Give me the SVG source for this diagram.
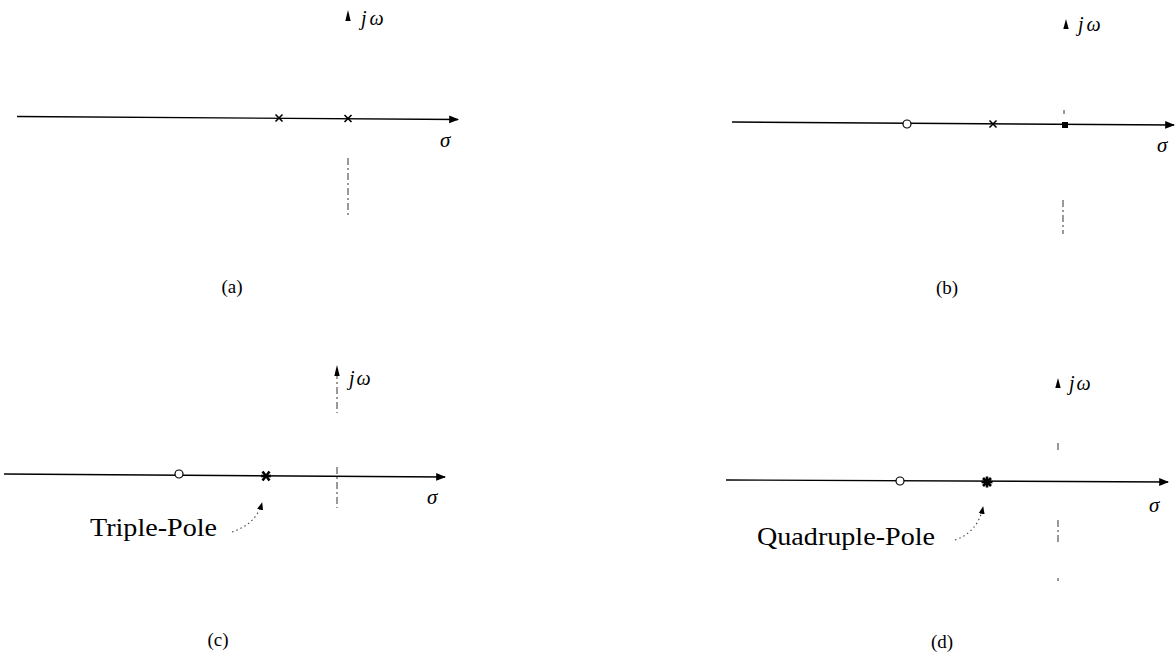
<svg xmlns="http://www.w3.org/2000/svg" width="1176" height="661" viewBox="0 0 1176 661">
<style>
.ax{stroke:#000;stroke-width:1.4;fill:none}
.im{stroke:#333;stroke-width:1;fill:none;stroke-dasharray:7 3 2 3}
.pole{stroke:#000;stroke-width:1.6;fill:none}
.mpole{stroke:#000;stroke-width:2.6;fill:none}
.zero{stroke:#000;stroke-width:1.2;fill:#fff}
.dot{stroke:#444;stroke-width:1.1;fill:none;stroke-dasharray:1.5 3}
.ah{fill:#000}
.lbl{font-family:"Liberation Serif","DejaVu Serif",serif;fill:#000}
.it{font-family:"Liberation Serif","DejaVu Serif",serif;font-style:italic;fill:#000}
</style>
<defs>
<marker id="arr" viewBox="0 0 10 10" refX="9" refY="5" markerWidth="7" markerHeight="7" orient="auto"><path d="M0,1 L10,5 L0,9 Z" fill="#000"/></marker>
<g id="px"><line x1="-3.5" y1="-3.5" x2="3.5" y2="3.5"/><line x1="-3.5" y1="3.5" x2="3.5" y2="-3.5"/></g>
</defs>
<rect width="1176" height="661" fill="#fff"/>

<g id="connectors">
<line class="ax" x1="17" y1="116.5" x2="458" y2="119.5" marker-end="url(#arr)"/>
<line class="ax" x1="732" y1="122" x2="1174" y2="125" marker-end="url(#arr)"/>
<line class="ax" x1="4" y1="474" x2="445" y2="477" marker-end="url(#arr)"/>
<line class="ax" x1="726" y1="480" x2="1168" y2="482" marker-end="url(#arr)"/>
<line class="im" x1="348" y1="158" x2="348" y2="216"/>
<polygon class="ah" points="348,10 345.3,21 350.7,21"/>
<line class="im" x1="1063" y1="200" x2="1063" y2="234"/>
<line class="im" x1="1064" y1="110" x2="1064" y2="114"/>
<polygon class="ah" points="1066,19 1063.3,29 1068.7,29"/>
<line class="im" x1="337" y1="372" x2="337" y2="413"/>
<line class="im" x1="337" y1="467" x2="337" y2="508"/>
<polygon class="ah" points="337,365 334.3,376 339.7,376"/>
<line class="im" x1="1058" y1="443" x2="1058" y2="453"/>
<line class="im" x1="1058" y1="520" x2="1058" y2="545"/>
<line class="im" x1="1058" y1="578" x2="1058" y2="581"/>
<polygon class="ah" points="1058,378 1055.3,388 1060.7,388"/>
<path class="dot" d="M232,532 Q256,524 262,503" marker-end="url(#arr)"/>
<path class="dot" d="M955,540 Q978,532 983,507" marker-end="url(#arr)"/>
</g>

<g id="panel-a">
<use href="#px" class="pole" x="279" y="118"/>
<use href="#px" class="pole" x="348" y="118.5"/>
<text class="it" x="361" y="25" font-size="20">j<tspan dx="3">ω</tspan></text>
<text class="it" x="440" y="147" font-size="21">σ</text>
<text class="lbl" x="232" y="293" font-size="19" text-anchor="middle">(a)</text>
</g>

<g id="panel-b">
<circle class="zero" cx="907" cy="124" r="4"/>
<use href="#px" class="pole" x="993" y="124"/>
<rect x="1062" y="122" width="6" height="6" fill="#000"/>
<text class="it" x="1078" y="31" font-size="20">j<tspan dx="3">ω</tspan></text>
<text class="it" x="1157" y="152" font-size="21">σ</text>
<text class="lbl" x="947" y="294" font-size="19" text-anchor="middle">(b)</text>
</g>

<g id="panel-c">
<circle class="zero" cx="179" cy="474" r="4"/>
<g class="mpole" transform="translate(266,476)"><line x1="-5" y1="0" x2="5" y2="0"/><line x1="-3.5" y1="-4.5" x2="3.5" y2="4.5"/><line x1="-3.5" y1="4.5" x2="3.5" y2="-4.5"/></g>
<text class="it" x="349" y="385" font-size="20">j<tspan dx="2">ω</tspan></text>
<text class="it" x="427" y="504" font-size="21">σ</text>
<text class="lbl" x="90" y="536" font-size="26" textLength="127" lengthAdjust="spacingAndGlyphs">Triple-Pole</text>
<text class="lbl" x="218" y="646" font-size="19" text-anchor="middle">(c)</text>
</g>

<g id="panel-d">
<circle class="zero" cx="900" cy="481" r="4"/>
<g class="mpole" transform="translate(987,482)"><line x1="-5.5" y1="0" x2="5.5" y2="0"/><line x1="0" y1="-5.5" x2="0" y2="5.5"/><line x1="-4" y1="-4" x2="4" y2="4"/><line x1="-4" y1="4" x2="4" y2="-4"/></g>
<text class="it" x="1069" y="390" font-size="20">j<tspan dx="2">ω</tspan></text>
<text class="it" x="1149" y="512" font-size="21">σ</text>
<text class="lbl" x="757" y="545" font-size="26" textLength="178" lengthAdjust="spacingAndGlyphs">Quadruple-Pole</text>
<text class="lbl" x="942" y="648" font-size="19" text-anchor="middle">(d)</text>
</g>
</svg>
